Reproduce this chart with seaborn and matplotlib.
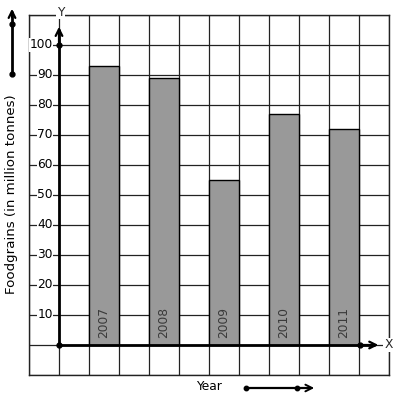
import numpy as np
import pandas as pd
import matplotlib
matplotlib.use("Agg")
import matplotlib.pyplot as plt
import seaborn as sns

years = ["2007", "2008", "2009", "2010", "2011"]
foodgrains = [93, 89, 55, 77, 72]
ytick_values = [10, 20, 30, 40, 50, 60, 70, 80, 90, 100]

sns.set_theme(style="white")
plt.rcParams['font.family'] = ['DejaVu Sans']

W, H = 397, 401
fig = plt.figure(figsize=(W / 100, H / 100), dpi=100)
ax = fig.add_axes([29 / W, (H - 375) / H, 360 / W, 360 / H])

df = pd.DataFrame({"Year": years, "Foodgrains": foodgrains})
sns.barplot(data=df, x="Year", y="Foodgrains", ax=ax, width=0.5,
            color="#999999", saturation=1, edgecolor="black", linewidth=1.0,
            zorder=3)

# grid: cells of 0.5 (x) and 10 (y)
x0, x1 = -1.25, 4.75
ax.set_xlim(x0, x1)
ax.set_ylim(-10, 110)
ax.set_xticks(np.arange(x0, x1 + 0.01, 0.5))
ax.set_yticks(np.arange(-10, 111, 10))
ax.set_xticklabels([])
ax.set_yticklabels([])
ax.tick_params(length=0)
ax.grid(True, color="#222222", linewidth=0.9, zorder=0)
ax.set_axisbelow(True)
for s in ax.spines.values():
    s.set_visible(True)
    s.set_color("#222222")
    s.set_linewidth(1.0)
ax.set_xlabel("")
ax.set_ylabel("")

ox = -0.75  # y axis position
# Y axis arrow
ax.plot([ox, ox], [0, 105], color="black", lw=2.0, zorder=5, clip_on=False)
ax.annotate("", xy=(ox, 107), xytext=(ox, 100),
            arrowprops=dict(arrowstyle="->", lw=1.6, color="black", mutation_scale=12),
            zorder=6, annotation_clip=False)
# X axis arrow
ax.plot([ox, 4.5], [0, 0], color="black", lw=2.0, zorder=5, clip_on=False)
ax.annotate("", xy=(4.62, 0), xytext=(4.25, 0),
            arrowprops=dict(arrowstyle="->", lw=1.6, color="black", mutation_scale=12),
            zorder=6, annotation_clip=False)
ax.plot([ox, ox, 4.27], [0, 100, 0], "o", color="black", ms=3.5, zorder=7, clip_on=False)

ax.text(ox + 0.03, 111, "Y", ha="center", va="center", fontsize=8.8, zorder=8,
        bbox=dict(facecolor="white", edgecolor="none", pad=0.5), clip_on=False)
ax.text(4.74, 0, "X", ha="center", va="center", fontsize=8.8, zorder=8,
        bbox=dict(facecolor="white", edgecolor="none", pad=0.5), clip_on=False)

# tick labels inside first column
for v in ytick_values:
    ax.text(ox - 0.1, v, str(v), ha="right", va="center", fontsize=8.8,
            color="black", zorder=8,
            bbox=dict(facecolor="white", edgecolor="none", pad=0.3))

# year labels inside bars
for i, yr in enumerate(years):
    ax.text(i, 2.5, yr, rotation=90, ha="center", va="bottom", fontsize=8.8,
            color="#3a3a3a", zorder=8)

# outside labels (figure pixels, origin bottom-left)
fig.text(12 / W, (H - 194) / H, "Foodgrains (in million tonnes)", rotation=90,
         ha="center", va="center", fontsize=9.6, color="black")
fig.text(209 / W, (H - 387) / H, "Year", ha="center", va="center",
         fontsize=8.8, color="black")

# decorative arrows
fig.add_artist(plt.Line2D([12 / W, 12 / W], [(H - 74) / H, (H - 12) / H],
                          color="black", lw=2.0))
ax.annotate("", xy=(12, H - 6), xytext=(12, H - 20), xycoords="figure pixels",
            textcoords="figure pixels",
            arrowprops=dict(arrowstyle="->", lw=1.6, color="black", mutation_scale=12),
            annotation_clip=False)
fig.add_artist(plt.Line2D([12 / W, 12 / W], [(H - 24) / H, (H - 74) / H],
                          color="black", lw=0, marker="o", ms=3.5))
fig.add_artist(plt.Line2D([246 / W, 310 / W], [(H - 388) / H, (H - 388) / H],
                          color="black", lw=1.6))
ax.annotate("", xy=(317, H - 388), xytext=(300, H - 388), xycoords="figure pixels",
            textcoords="figure pixels",
            arrowprops=dict(arrowstyle="->", lw=1.4, color="black", mutation_scale=12),
            annotation_clip=False)
fig.add_artist(plt.Line2D([246 / W, 297 / W], [(H - 388) / H, (H - 388) / H],
                          color="black", lw=0, marker="o", ms=3.2))

fig.savefig("out.png", dpi=100, facecolor="white")
